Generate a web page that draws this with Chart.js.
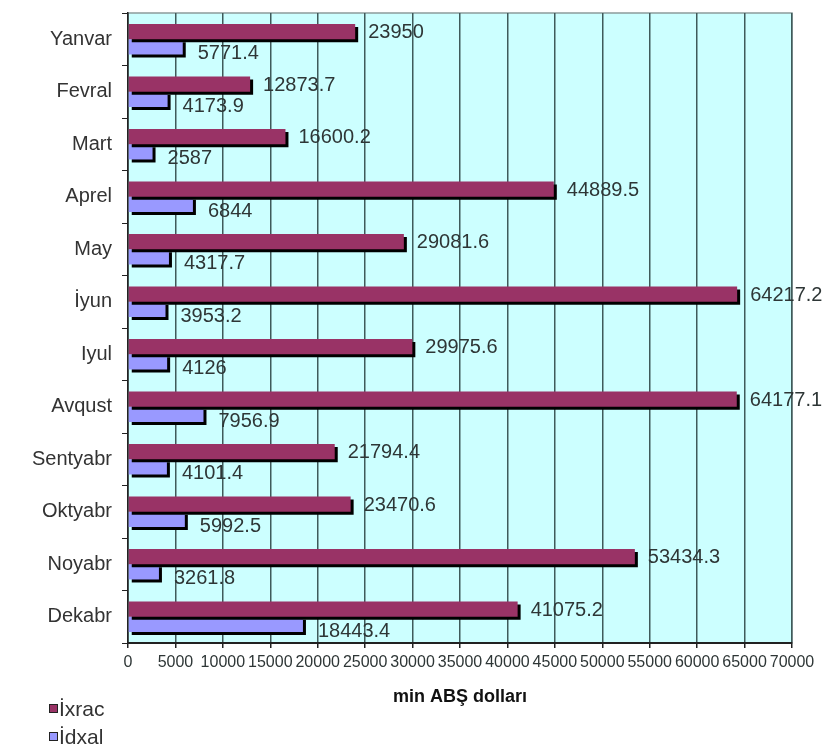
<!DOCTYPE html>
<html>
<head>
<meta charset="utf-8">
<script src="https://cdn.jsdelivr.net/npm/chart.js@4.4.1/dist/chart.umd.min.js"></script>
<style>
    html, body { margin: 0; padding: 0; background: #ffffff; }
    #wrap { width: 830px; height: 745px; }
</style>
</head>
<body>
<div id="wrap"><canvas id="grafico" width="830" height="745"></canvas></div>
<script>
// datos
const meses = ['Yanvar', 'Fevral', 'Mart', 'Aprel', 'May', 'İyun',
    'Iyul', 'Avqust', 'Sentyabr', 'Oktyabr', 'Noyabr', 'Dekabr'];
const ixrac = [23950, 12873.7, 16600.2, 44889.5, 29081.6, 64217.2,
    29975.6, 64177.1, 21794.4, 23470.6, 53434.3, 41075.2];
const idxal = [5771.4, 4173.9, 2587, 6844, 4317.7, 3953.2,
    4126, 7956.9, 4101.4, 5992.5, 3261.8, 18443.4];
const seriesNames = ['İxrac', 'İdxal'];
const axisTitle = 'min ABŞ dolları';
const xMax = 70000;
const xStep = 5000;

const FONT = '"Liberation Sans", Arial, sans-serif';
const colores = [
    { bg: '#993366' }, // granate
    { bg: '#9999FF' }  // lila
];

// fondo cian del área del gráfico + borde gris
const fondoPlugin = {
    id: 'fondo',
    beforeDraw(chart) {
        const { ctx, chartArea: a } = chart;
        ctx.save();
        ctx.fillStyle = '#CCFFFF';
        ctx.fillRect(a.left, a.top, a.right - a.left, a.bottom - a.top);
        ctx.strokeStyle = '#8c9c9c';
        ctx.lineWidth = 1.5;
        ctx.strokeRect(a.left, a.top, a.right - a.left, a.bottom - a.top);
        ctx.restore();
    }
};

// sombra negra de las barras y etiquetas de valores
const barrasPlugin = {
    id: 'barras',
    beforeDatasetsDraw(chart) {
        const ctx = chart.ctx;
        ctx.save();
        ctx.shadowColor = '#000000';
        ctx.shadowOffsetX = 3;
        ctx.shadowOffsetY = 3;
        ctx.shadowBlur = 0;
    },
    afterDatasetsDraw(chart) {
        const ctx = chart.ctx;
        ctx.restore();
        ctx.save();
        ctx.font = '20px ' + FONT;
        ctx.fillStyle = '#2e3636';
        ctx.textBaseline = 'middle';
        ctx.textAlign = 'left';
        chart.data.datasets.forEach((ds, i) => {
            const meta = chart.getDatasetMeta(i);
            const dx = i === 0 ? 13 : 15;
            const dy = i === 0 ? 1 : 7;
            meta.data.forEach((bar, j) => {
                ctx.fillText(String(ds.data[j]), bar.x + dx, bar.y + dy);
            });
        });
        ctx.restore();
    }
};

// título del eje x y leyenda vertical abajo a la izquierda
const leyendaPlugin = {
    id: 'leyenda',
    afterDraw(chart) {
        const { ctx, chartArea: a } = chart;
        ctx.save();
        ctx.textBaseline = 'middle';
        ctx.fillStyle = '#111111';
        ctx.font = 'bold 18px ' + FONT;
        ctx.textAlign = 'center';
        ctx.fillText(axisTitle, (a.left + a.right) / 2, a.bottom + 54);

        ctx.font = '21px ' + FONT;
        ctx.textAlign = 'left';
        chart.data.datasets.forEach((ds, i) => {
            const y = a.bottom + 66 + i * 28;
            ctx.fillStyle = ds.backgroundColor;
            ctx.fillRect(49, y - 5, 9, 9);
            ctx.strokeStyle = '#222222';
            ctx.lineWidth = 1;
            ctx.strokeRect(49.5, y - 4.5, 8, 8);
            ctx.fillStyle = '#333333';
            ctx.fillText(ds.label, 59, y + 1);
        });
        ctx.restore();
    }
};

const datasets = [ixrac, idxal].map((serie, i) => ({
    label: seriesNames[i],
    data: serie,
    backgroundColor: colores[i].bg,
    borderWidth: 0,
    categoryPercentage: 0.58,
    barPercentage: 1.0
}));

const chart = new Chart(document.getElementById('grafico'), {
    type: 'bar',
    data: { labels: meses, datasets },
    options: {
        indexAxis: 'y',
        responsive: false,
        animation: false,
        layout: { padding: { top: 13, right: 38, left: 0, bottom: 72 } },
        plugins: {
            legend: { display: false },
            tooltip: { enabled: false }
        },
        scales: {
            x: {
                min: 0,
                max: xMax,
                ticks: {
                    stepSize: xStep,
                    autoSkip: false,
                    maxRotation: 0,
                    padding: 5,
                    color: '#2e3636',
                    font: { family: FONT, size: 16 },
                    callback: (v) => String(v)
                },
                grid: {
                    color: '#3f5a5a',
                    lineWidth: 1.5,
                    tickLength: 5,
                    tickColor: '#222222'
                },
                border: { color: '#222222', width: 2 },
                afterFit(scale) { scale.height = 30; }
            },
            y: {
                offset: true,
                ticks: {
                    padding: 10,
                    color: '#333333',
                    font: { family: FONT, size: 20 }
                },
                grid: {
                    offset: true,
                    drawOnChartArea: false,
                    tickLength: 6,
                    color: '#222222'
                },
                border: { color: '#222222', width: 1.5 },
                afterFit(scale) {
                    scale.width = 128;
                    scale.paddingTop = 0;
                    scale.paddingBottom = 0;
                }
            }
        }
    },
    plugins: [fondoPlugin, barrasPlugin, leyendaPlugin]
});
</script>
</body>
</html>
